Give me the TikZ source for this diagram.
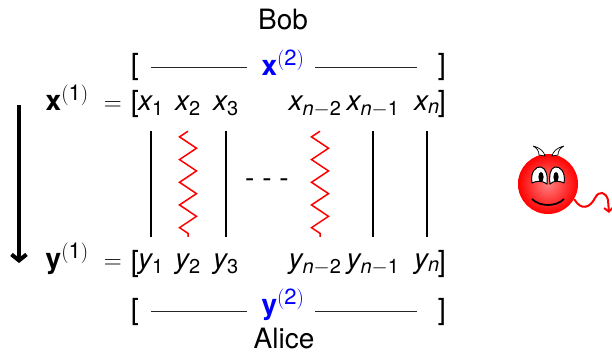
\documentclass[tikz,border=0pt]{standalone}
\usepackage{amsmath}
\usepackage{fontspec}
\setmainfont{TeX Gyre Heros}
\usepackage{tikz}
\usetikzlibrary{arrows.meta, decorations.pathmorphing, calc}

\DeclareMathSizes{28}{28}{20}{15}
\newcommand{\cellfont}{\fontsize{28}{30}\selectfont}
\newcommand{\upidx}[1]{^{\mbox{\fontsize{22}{22}\selectfont$(\mathrm{#1})$}}}

\begin{document}
\begin{tikzpicture}[x=1pt, y=-1pt, node distance=37pt, font=\cellfont]
        \tikzstyle{cell} = [inner sep=0pt, text height=31pt, text depth=21pt]
        \tikzstyle{label} = [inner sep=0pt, anchor=base]
        \tikzstyle{brk} = [inner sep=0pt, font=\fontsize{29}{30}\selectfont]
        \tikzstyle{rule} = [draw, black!85, line width=0.9pt]
        \tikzstyle{wire} = [draw, line width=1.5pt]
        \tikzstyle{leak} = [draw, red, line width=1.5pt, decorate, decoration={zigzag, mirror, amplitude=8.5pt, segment length=22.7pt}]

        \useasboundingbox (0,0) rectangle (612,353);

        % --- names ---
        \node [label] (bob) at (283,30) {Bob};
        \node [label] (alice) at (284,348) {Alice};

        % --- top row ---
        \node [brk] (lbrkx) at (135,67.5) {[};
        \node [brk] (rbrkx) at (442,67.5) {]};
        \node [label, blue] (xtwo) at (283,75) {$\mathbf{x}\upidx{2}$};
        \draw [rule, shorten <=12pt, shorten >=36pt] (lbrkx) -- (lbrkx -| xtwo);
        \draw [rule, shorten <=32pt, shorten >=21pt] (lbrkx -| xtwo) -- (rbrkx);

        % --- x row ---
        \node [label, anchor=base east] (xone) at (122,110) {$\mathbf{x}\upidx{1}\,\,=$};
        \node [brk] (lbrka) at (135,104.5) {[};
        \node [brk] (rbrka) at (442,104.5) {]};
        \node [cell] (x1) at (151,105) {$\mathit{x}_{\mathrm{1}}$};
        \node [cell, right of=x1] (x2) {$\mathit{x}_{\mathrm{2}}$};
        \node [cell, right of=x2, node distance=38pt] (x3) {$\mathit{x}_{\mathrm{3}}$};
        \node [cell, right of=x3, node distance=89pt] (xa) {$\mathit{x}_{\mathit{n}-\mathrm{2}}$};
        \node [cell, right of=xa, node distance=58pt] (xb) {$\mathit{x}_{\mathit{n}-\mathrm{1}}$};
        \node [cell, right of=xb, node distance=54pt] (xc) {$\mathit{x}_{\mathit{n}}$};

        % --- y row ---
        \node [label, anchor=base east] (yone) at (122,268) {$\mathbf{y}\upidx{1}\,\,=$};
        \node [brk] (lbrkb) at (135,263.5) {[};
        \node [brk] (rbrkb) at (442,263.5) {]};
        \node [cell, below of=x1, node distance=158pt] (y1) {$\mathit{y}_{\mathrm{1}}$};
        \node [cell, right of=y1] (y2) {$\mathit{y}_{\mathrm{2}}$};
        \node [cell, right of=y2, node distance=38pt] (y3) {$\mathit{y}_{\mathrm{3}}$};
        \node [cell, right of=y3, node distance=89pt] (ya) {$\mathit{y}_{\mathit{n}-\mathrm{2}}$};
        \node [cell, right of=ya, node distance=58pt] (yb) {$\mathit{y}_{\mathit{n}-\mathrm{1}}$};
        \node [cell, right of=yb, node distance=54pt] (yc) {$\mathit{y}_{\mathit{n}}$};

        % --- bottom row ---
        \node [brk] (lbrky) at (135,311.5) {[};
        \node [brk] (rbrky) at (442,311.5) {]};
        \node [label, blue] (ytwo) at (283,314) {$\mathbf{y}\upidx{2}$};
        \draw [rule, shorten <=12pt, shorten >=36pt] (lbrky) -- (lbrky -| ytwo);
        \draw [rule, shorten <=32pt, shorten >=21pt] (lbrky -| ytwo) -- (rbrky);

        % --- channels ---
        \draw [wire] (x1.south) -- (y1.north);
        \draw [leak] (x2.south) -- (y2.north);
        \draw [wire] (x3.south) -- (y3.north);
        \draw [leak] ([xshift=5pt]xa.south) -- ([xshift=5pt]ya.north);
        \draw [wire] (xb.south) -- (yb.north);
        \draw [wire] (xc.south) -- (yc.north);
        \node [inner sep=0pt] (dots) at (267,183) {- - -};

        % --- time arrow ---
        \coordinate (start) at (19,105);
        \coordinate (stop) at (19,263);
        \draw [line width=4pt, -{Straight Barb[length=6pt, width=15pt]}] (start) -- (stop);

        % --- devil ---
        \node [circle, minimum size=60pt, inner sep=0pt, inner color=red!50!white, outer color=red] (devil) at (548,184) {};
        \draw [black, fill=white, line width=0.7pt] (533,146) .. controls (541,148) and (544,152) .. (545,156) -- (539,155) .. controls (539,151) and (537,148) .. (533,146);
        \draw [black, fill=white, line width=0.7pt] (564,146) .. controls (556,148) and (553,152) .. (552,156) -- (558,155) .. controls (558,151) and (560,148) .. (564,146);
        \draw [black, fill=white, line width=1pt] (532,183) .. controls (530,172) and (536,166) .. (541,167) .. controls (546,168) and (548,176) .. (547,184) .. controls (542,180) and (536,181) .. (532,183);
        \draw [black, fill=white, line width=1pt] (564,183) .. controls (566,172) and (560,166) .. (555,167) .. controls (550,168) and (549,176) .. (550,184) .. controls (554,180) and (560,181) .. (564,183);
        \fill [black] (541,177) ellipse (2.6 and 5);
        \fill [black] (556,177) ellipse (2.6 and 5);
        \draw [black, line width=1.7pt] (532,199) .. controls (540,207) and (556,207) .. (564,199);
        \draw [red, line width=2pt, -{Straight Barb[length=4pt, width=9pt]}] (devil.-30) .. controls (581,211) and (590,208) .. (595,198) .. controls (599,190) and (606,192) .. (608,200) -- (609,213);
    \end{tikzpicture}
\end{document}
